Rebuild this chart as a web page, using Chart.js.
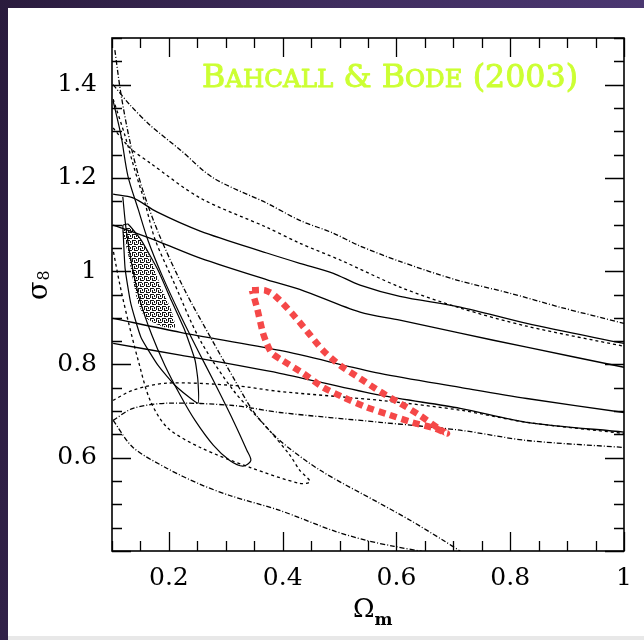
<!DOCTYPE html>
<html>
<head>
<meta charset="utf-8">
<script src="https://cdn.jsdelivr.net/npm/chart.js@4/dist/chart.umd.min.js"></script>
<style>
  html, body { margin: 0; padding: 0; width: 644px; height: 640px; overflow: hidden; }
  body { background: linear-gradient(100deg, #2a1b3d 0%, #3f2d5e 45%, #4f3b78 100%); position: relative; }
  #paper { position: absolute; left: 8px; top: 8px; width: 636px; height: 628px; background: #ffffff; }
  #foot { position: absolute; left: 8px; top: 636px; width: 636px; height: 4px; background: #e8e8e8; }
  #c { position: absolute; left: 0; top: 0; }
</style>
</head>
<body>
<div id="paper"></div>
<div id="foot"></div>
<canvas id="c" width="644" height="640"></canvas>
<script>
// ---------------- data (Omega_m, sigma_8) ----------------
const titleText = 'Bahcall & Bode (2003)';
const xTickValues = [0.2, 0.4, 0.6, 0.8, 1.0];
const xTickLabels = ['0.2', '0.4', '0.6', '0.8', '1'];
const yTickValues = [0.6, 0.8, 1.0, 1.2, 1.4];
const yTickLabels = ['0.6', '0.8', '1', '1.2', '1.4'];

// nearly flat bands (evolution constraint)
const flatDash1 = [[0.102,1.40],[0.132,1.356],[0.167,1.313],[0.22,1.26],[0.278,1.20],[0.372,1.146],[0.43,1.109],[0.488,1.082],[0.536,1.054],[0.606,1.021],[0.706,0.981],[0.799,0.953],[0.887,0.923],[1.0,0.888]];
const flatDash2 = [[0.102,1.307],[0.132,1.264],[0.167,1.232],[0.255,1.157],[0.372,1.094],[0.43,1.06],[0.501,1.024],[0.606,0.966],[0.712,0.921],[0.829,0.882],[1.0,0.839]];
const flatSolid1 = [[0.102,1.165],[0.137,1.157],[0.179,1.127],[0.255,1.086],[0.372,1.039],[0.43,1.017],[0.488,0.996],[0.536,0.970],[0.606,0.946],[0.712,0.923],[0.829,0.888],[1.0,0.845]];
const flatSolid2 = [[0.102,1.099],[0.123,1.090],[0.181,1.064],[0.255,1.028],[0.374,0.981],[0.43,0.961],[0.536,0.912],[0.606,0.895],[0.712,0.867],[0.829,0.837],[1.0,0.794]];
const flatSolid3 = [[0.102,0.899],[0.22,0.869],[0.395,0.830],[0.571,0.781],[0.712,0.751],[0.829,0.727],[1.0,0.697]];
const flatSolid4 = [[0.102,0.845],[0.22,0.820],[0.395,0.781],[0.571,0.734],[0.712,0.706],[0.829,0.676],[1.0,0.655]];
const flatDash3 = [[0.102,0.723],[0.137,0.745],[0.197,0.760],[0.313,0.755],[0.395,0.742],[0.571,0.723],[0.712,0.702],[0.829,0.676],[1.0,0.652]];
const flatDash4 = [[0.102,0.680],[0.137,0.706],[0.197,0.717],[0.313,0.712],[0.395,0.697],[0.571,0.676],[0.712,0.659],[0.829,0.637],[1.0,0.622]];

// steep contours (present-day cluster abundance)
const outerRight = [[0.105,1.474],[0.116,1.378],[0.133,1.270],[0.154,1.174],[0.184,1.075],[0.228,0.959],[0.276,0.852],[0.316,0.766],[0.351,0.695],[0.395,0.637],[0.466,0.573],[0.571,0.502],[0.624,0.466],[0.682,0.423],[0.713,0.399]];
const outerLeft = [[0.102,0.680],[0.137,0.622],[0.197,0.577],[0.255,0.543],[0.307,0.519],[0.395,0.487],[0.488,0.444],[0.546,0.423],[0.596,0.410],[0.645,0.399]];
const midContour = [[0.102,1.369],[0.123,1.290],[0.140,1.217],[0.158,1.146],[0.176,1.067],[0.207,0.981],[0.255,0.852],[0.313,0.745],[0.372,0.665],[0.413,0.605],[0.430,0.573],[0.448,0.549],[0.430,0.545],[0.343,0.579],[0.255,0.622],[0.197,0.665],[0.167,0.723],[0.146,0.809],[0.128,0.895],[0.114,0.970],[0.102,1.045]];
const narrowSolid = [[0.102,1.365],[0.116,1.290],[0.128,1.204],[0.146,1.133],[0.163,1.067],[0.188,0.991],[0.220,0.906],[0.251,0.830],[0.278,0.766],[0.313,0.680],[0.337,0.616],[0.344,0.594],[0.330,0.582],[0.307,0.594],[0.278,0.627],[0.246,0.680],[0.220,0.734],[0.193,0.798],[0.170,0.863],[0.149,0.938],[0.135,1.013],[0.125,1.088],[0.119,1.159]];
const smallSolid = [[0.119,1.099],[0.128,1.101],[0.151,1.067],[0.181,1.002],[0.204,0.938],[0.228,0.873],[0.246,0.809],[0.251,0.766],[0.251,0.717],[0.211,0.755],[0.181,0.798],[0.151,0.858],[0.133,0.931],[0.123,1.006],[0.119,1.099]];
const shadedRegion = [[0.119,1.094],[0.133,1.094],[0.151,1.067],[0.169,1.024],[0.186,0.966],[0.202,0.923],[0.211,0.880],[0.193,0.880],[0.176,0.888],[0.158,0.901],[0.146,0.931],[0.137,0.981],[0.128,1.039],[0.119,1.082]];

// red dotted loop
const redLoop = [[0.346,0.959],[0.369,0.959],[0.386,0.948],[0.416,0.910],[0.443,0.871],[0.471,0.830],[0.501,0.798],[0.536,0.770],[0.571,0.742],[0.606,0.717],[0.641,0.691],[0.676,0.661],[0.689,0.652],[0.668,0.663],[0.627,0.676],[0.585,0.693],[0.548,0.708],[0.506,0.730],[0.471,0.751],[0.436,0.781],[0.399,0.809],[0.381,0.824],[0.372,0.845],[0.365,0.869],[0.355,0.921],[0.346,0.959]];

// ---------------- helpers ----------------
const toXY = arr => arr.map(p => ({x: p[0], y: p[1]}));
const DASH = [3, 3];
const DASHDOT = [5, 2, 1, 2];
const TICK_FONT = '"DejaVu Serif"';

function makePattern() {
  const c = document.createElement('canvas');
  c.width = 6; c.height = 6;
  const g = c.getContext('2d');
  g.fillStyle = '#ffffff'; g.fillRect(0, 0, 6, 6);
  g.fillStyle = '#151515';
  g.fillRect(0, 0, 4, 1);
  g.fillRect(0, 0, 1, 4);
  g.fillRect(2, 2, 1, 3);
  g.fillRect(2, 4, 4, 1);
  g.fillRect(4, 1, 1, 2);
  return g.createPattern(c, 'repeat');
}

function line(data, dash, extra) {
  return Object.assign({
    data: toXY(data), showLine: true, pointRadius: 0, borderColor: '#000',
    borderWidth: 1.3, borderDash: dash || [], tension: 0.3, fill: false, order: 1
  }, extra || {});
}

const ctx = document.getElementById('c').getContext('2d');

const framePlugin = {
  id: 'frameTicks',
  afterDatasetsDraw(chart) {
    const {ctx, chartArea: a, scales} = chart;
    ctx.save();
    ctx.strokeStyle = '#000';
    ctx.lineWidth = 1.3;
    const isMajor = v => Math.abs(v / 0.2 - Math.round(v / 0.2)) < 1e-6;
    scales.x.ticks.forEach(t => {
      const px = Math.round(scales.x.getPixelForValue(t.value)) + 0.5;
      const L = isMajor(t.value) ? 19 : 10;
      ctx.beginPath();
      ctx.moveTo(px, a.bottom); ctx.lineTo(px, a.bottom - L);
      ctx.moveTo(px, a.top); ctx.lineTo(px, a.top + L);
      ctx.stroke();
    });
    scales.y.ticks.forEach(t => {
      const py = Math.round(scales.y.getPixelForValue(t.value)) + 0.5;
      const L = isMajor(t.value) ? 19 : 10;
      ctx.beginPath();
      ctx.moveTo(a.left, py); ctx.lineTo(a.left + L, py);
      ctx.moveTo(a.right, py); ctx.lineTo(a.right - L, py);
      ctx.stroke();
    });
    ctx.lineWidth = 1.6;
    ctx.strokeRect(a.left, a.top, a.right - a.left, a.bottom - a.top);
    ctx.restore();
  },
  afterDraw(chart) {
    const {ctx, chartArea: a} = chart;
    ctx.save();
    ctx.fillStyle = '#000';
    ctx.textBaseline = 'alphabetic';
    const cx = (a.left + a.right) / 2;
    ctx.font = '26px ' + TICK_FONT;
    ctx.fillText('Ω', cx - 15, 617);
    const wO = ctx.measureText('Ω').width;
    ctx.font = 'bold 17px ' + TICK_FONT;
    ctx.fillText('m', cx - 15 + wO, 625);
    ctx.save();
    ctx.translate(47, 300);
    ctx.rotate(-Math.PI / 2);
    ctx.font = '27px ' + TICK_FONT;
    ctx.fillText('σ', 0, 0);
    const wS = ctx.measureText('σ').width;
    ctx.font = '16px ' + TICK_FONT;
    ctx.fillText('8', wS + 1, 2);
    ctx.restore();

    // title in small caps
    const bigF = '31px "DejaVu Serif"', smallF = '24px "DejaVu Serif"';
    const segs = [];
    for (const ch of titleText) {
      const small = ch !== ch.toUpperCase();
      segs.push({t: ch.toUpperCase(), f: small ? smallF : bigF});
    }
    let total = 0;
    segs.forEach(s => { ctx.font = s.f; s.w = ctx.measureText(s.t).width; total += s.w; });
    const sx = 376 / total;
    ctx.translate(202, 87);
    ctx.scale(sx, 1);
    ctx.fillStyle = '#ccff33';
    ctx.strokeStyle = '#ccff33';
    ctx.lineWidth = 0.9;
    ctx.lineJoin = 'round';
    let xc = 0;
    segs.forEach(s => { ctx.font = s.f; ctx.fillText(s.t, xc, 0); ctx.strokeText(s.t, xc, 0); xc += s.w; });
    ctx.restore();
  }
};

const labelFor = (vals, labs) => v => {
  const i = vals.findIndex(t => Math.abs(t - v) < 1e-6);
  return i >= 0 ? labs[i] : '';
};

new Chart(ctx, {
  type: 'scatter',
  data: {
    datasets: [
      line(redLoop, [7, 5], {borderColor: '#f54848', borderWidth: 6.5, tension: 0.25, order: 0, borderCapStyle: 'butt'}),
      line(flatDash1, DASHDOT),
      line(flatDash2, DASH),
      line(flatSolid1, []),
      line(flatSolid2, []),
      line(flatSolid3, []),
      line(flatSolid4, []),
      line(flatDash3, DASH),
      line(flatDash4, DASHDOT),
      line(outerRight, DASHDOT),
      line(outerLeft, DASHDOT),
      line(midContour, DASH),
      line(narrowSolid, [], {borderWidth: 1.2}),
      line(smallSolid, [], {borderWidth: 1.2, tension: 0.15}),
      line(shadedRegion, [], {borderWidth: 0, fill: 'shape', backgroundColor: makePattern(), tension: 0.2, order: 2})
    ]
  },
  options: {
    responsive: false,
    animation: false,
    devicePixelRatio: 1,
    layout: {padding: {left: 0, top: 38, right: 20, bottom: 0}},
    plugins: {legend: {display: false}, tooltip: {enabled: false}},
    scales: {
      x: {
        type: 'linear', min: 0.1, max: 1.0,
        grid: {display: false, drawTicks: false}, border: {display: false},
        ticks: {stepSize: 0.05, autoSkip: false, maxRotation: 0, padding: 12,
          color: '#000', font: {family: TICK_FONT, size: 25},
          callback: labelFor(xTickValues, xTickLabels)},
        afterFit: s => { s.height = 89; }
      },
      y: {
        type: 'linear', min: 0.4, max: 1.5,
        grid: {display: false, drawTicks: false}, border: {display: false},
        ticks: {stepSize: 0.05, autoSkip: false, padding: 15,
          color: '#000', font: {family: TICK_FONT, size: 25},
          callback: labelFor(yTickValues, yTickLabels)},
        afterFit: s => { s.width = 112; }
      }
    }
  },
  plugins: [framePlugin]
});
</script>
</body>
</html>
